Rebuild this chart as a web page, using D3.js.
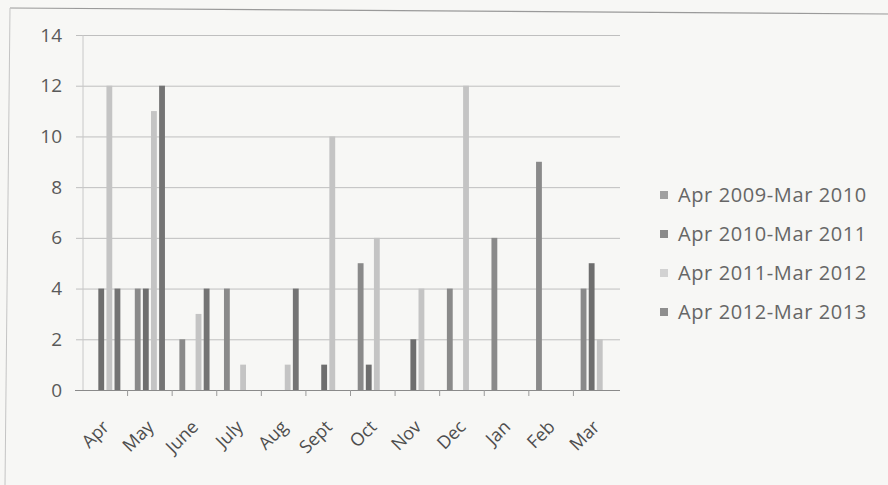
<!DOCTYPE html>
<html>
<head>
<meta charset="utf-8">
<script src="https://cdn.jsdelivr.net/npm/d3@7"></script>
<style>
  html, body { margin: 0; padding: 0; background: #f7f7f5; }
  svg { display: block; }
  text { font-family: "Open Sans", "DejaVu Sans", sans-serif; }
</style>
</head>
<body>
<svg id="chart" width="888" height="485"></svg>
<script>
// Monthly counts, one array per financial year (April to March)
const months = ["Apr", "May", "June", "July", "Aug", "Sept", "Oct", "Nov", "Dec", "Jan", "Feb", "Mar"];
const seriesNames = ["Apr 2009-Mar 2010", "Apr 2010-Mar 2011", "Apr 2011-Mar 2012", "Apr 2012-Mar 2013"];
const fy2009 = [0, 4, 2, 4, 0, 0, 5, 0, 4, 6, 9, 4];
const fy2010 = [4, 4, 0, 0, 0, 1, 1, 2, 0, 0, 0, 5];
const fy2011 = [12, 11, 3, 1, 1, 10, 6, 4, 12, 0, 0, 2];
const fy2012 = [4, 12, 4, 0, 4, 0, 0, 0, 0, 0, 0, 0];
const yTicks = [0, 2, 4, 6, 8, 10, 12, 14];

const seriesValues = [fy2009, fy2010, fy2011, fy2012];
const seriesColors = ["#8a8a8a", "#6e6e6e", "#c4c4c4", "#747474"];
const legendColors = ["#a0a0a0", "#8a8a8a", "#d2d2d2", "#8e8e8e"];

const svg = d3.select("#chart");

// Outer chart frame (top and left edges)
svg.append("line").attr("x1", 10).attr("y1", 8).attr("x2", 888).attr("y2", 14)
  .attr("stroke", "#9a9a9a").attr("stroke-width", 1.2);
svg.append("line").attr("x1", 10).attr("y1", 8).attr("x2", 5).attr("y2", 485)
  .attr("stroke", "#c4c4c4").attr("stroke-width", 1);

const plot = { left: 83, right: 618, top: 35, bottom: 390 };

const x0 = d3.scaleBand().domain(months).range([plot.left, plot.right]).paddingInner(0).paddingOuter(0);
const x1 = d3.scaleBand().domain(d3.range(4)).range([0, x0.bandwidth()]).paddingInner(0).paddingOuter(0.75);
const y = d3.scaleLinear().domain([0, 14]).range([plot.bottom, plot.top]);

// Horizontal gridlines with outside tick marks on the value axis
const yAxis = d3.axisLeft(y).tickValues(yTicks).tickSize(-(plot.right + 2 - plot.left)).tickPadding(20).tickFormat(d3.format("d"));
const gy = svg.append("g").attr("transform", `translate(${plot.left},0)`).call(yAxis);
gy.select(".domain").remove();
gy.selectAll(".tick line").attr("stroke", "#bfbfbf").attr("stroke-width", 1).attr("x1", -7);
gy.selectAll(".tick text").attr("fill", "#5a5a5a").attr("font-size", 19).attr("x", -21);

// Vertical value-axis line
svg.append("line").attr("x1", plot.left).attr("x2", plot.left).attr("y1", plot.top).attr("y2", plot.bottom)
  .attr("stroke", "#c8c8c8");

// Bars
const barW = x1.bandwidth() * 0.72;
const groups = svg.append("g").selectAll("g").data(months).join("g")
  .attr("transform", d => `translate(${x0(d)},0)`);
groups.selectAll("rect")
  .data((m, i) => seriesValues.map((vals, s) => ({ s, v: vals[i] })).filter(d => d.v > 0))
  .join("rect")
  .attr("x", d => x1(d.s) + (x1.bandwidth() - barW) / 2)
  .attr("width", barW)
  .attr("y", d => y(d.v))
  .attr("height", d => y(0) - y(d.v))
  .attr("fill", d => seriesColors[d.s]);

// Category axis
const xAxis = d3.axisBottom(x0).tickSize(0).tickPadding(0);
const gx = svg.append("g").attr("transform", `translate(0,${plot.bottom})`).call(xAxis);
gx.select(".domain").attr("stroke", "#8a8a8a").attr("d", `M${plot.left - 8},0.5H${plot.right + 2}`);
gx.selectAll(".tick line").remove();
gx.selectAll(".tick text")
  .attr("fill", "#4e4e4e").attr("font-size", 18)
  .attr("text-anchor", "end")
  .attr("dy", 0).attr("y", 0)
  .attr("transform", "translate(5,38) rotate(-45)");

// Tick marks between categories
svg.append("g").selectAll("line").data(months.slice(1)).join("line")
  .attr("x1", d => x0(d)).attr("x2", d => x0(d))
  .attr("y1", plot.bottom).attr("y2", plot.bottom + 6)
  .attr("stroke", "#9a9a9a");

// Legend
const legend = svg.append("g").attr("transform", "translate(660,195)");
const rows = legend.selectAll("g").data(seriesNames).join("g")
  .attr("transform", (d, i) => `translate(0,${i * 39})`);
rows.append("rect").attr("x", 0).attr("y", -4).attr("width", 8).attr("height", 8)
  .attr("fill", (d, i) => legendColors[i]);
rows.append("text").attr("x", 18).attr("y", 0).attr("dy", "0.35em")
  .attr("font-size", 20).attr("letter-spacing", 0.6).attr("fill", "#666").text(d => d);
</script>
</body>
</html>
